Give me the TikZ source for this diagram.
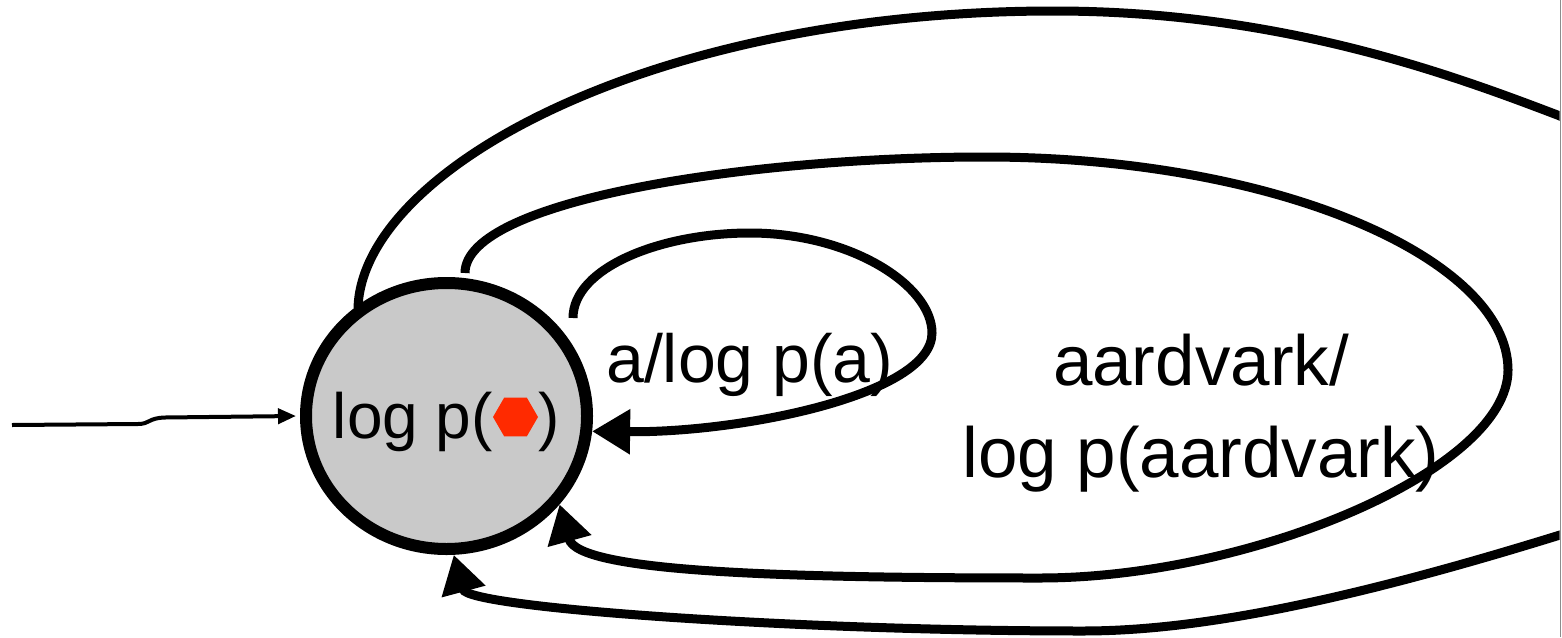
\documentclass[tikz,border=0pt]{standalone}
\usepackage{fontspec}
\setmainfont{Liberation Sans}
\usetikzlibrary{arrows.meta,shapes.geometric,calc}
\definecolor{stategray}{HTML}{C9C9C9}
\definecolor{hexred}{HTML}{FF2A00}
\definecolor{framegray}{HTML}{8C8C8C}
\begin{document}
\begin{tikzpicture}[x=1pt,y=-1pt,
  state/.style={ellipse, draw, line width=12pt, fill=stategray,
    minimum width=281pt, minimum height=266pt, inner sep=0pt,
    font=\fontsize{64}{64}\selectfont},
  arc/.style={line width=9pt, -{Triangle[length=38pt,width=43pt]}},
  entry/.style={line width=4pt, -{Triangle[length=18pt,width=15pt]}},
  lbl/.style={font=\fontsize{68}{92}\selectfont, inner sep=0pt},
  hex/.style={regular polygon, regular polygon sides=6, minimum size=45pt,
    inner sep=0pt, fill=hexred}
]
\useasboundingbox (0,0) rectangle (1562,637);

% the single state
\node[state] (n) at (446.5,416)
  {\makebox[0pt]{\raisebox{-6pt}[\height][\depth]{log p(\hspace{46pt})}}};
\node[hex] (h) at ($(n.center)+(69,1)$) {};

% loop start points (just off the state border)
\coordinate (s0) at (573,318);
\coordinate (m0) at (465,273);
\coordinate (o0) at (358,308);
\coordinate (in0) at (12,425);

% initial arrow
\draw[entry] (in0) -- (138,424) .. controls (150,424) and (148,418) .. (165,417.5)
  -- ([xshift=-4pt]n.west);

% a/log p(a)
\draw[arc] (s0) .. controls (573,268) and (660,233) .. (750,233)
  .. controls (850,233) and (932,285) .. (932,333)
  .. controls (932,395) and (740,433) .. (n.-6.7);

% aardvark/log p(aardvark)
\draw[arc] (m0) .. controls (465,200) and (750,157) .. (985,157)
  .. controls (1280,157) and (1508,260) .. (1508,370)
  .. controls (1508,470) and (1250,578) .. (1040,578)
  .. controls (780,578) and (578,572) .. (n.-38);

% outer loop, running past the right edge
\begin{scope}
  \clip (0,0) rectangle (1559.5,637);
  \draw[arc] (o0) .. controls (362,170) and (650,11) .. (1054,11)
    .. controls (1280,11) and (1450,74) .. (1560,116)
    .. controls (1700,187) and (1700,495) .. (1560,535)
    .. controls (1350,600) and (1200,631) .. (1083,631)
    .. controls (800,631) and (468,608) .. (n.-87.3);
\end{scope}

% labels
\node[lbl, anchor=base west] (la) at (606,382) {a/log p(a)};
\node[lbl, anchor=base, align=center, font=\fontsize{71}{92}\selectfont]
  (lb) at (1201,477) {aardvark/\\log p(aardvark)};

% right frame edge
\draw[framegray, line width=1.5pt] (1560.5,0) -- (1560.5,637);
\end{tikzpicture}
\end{document}
